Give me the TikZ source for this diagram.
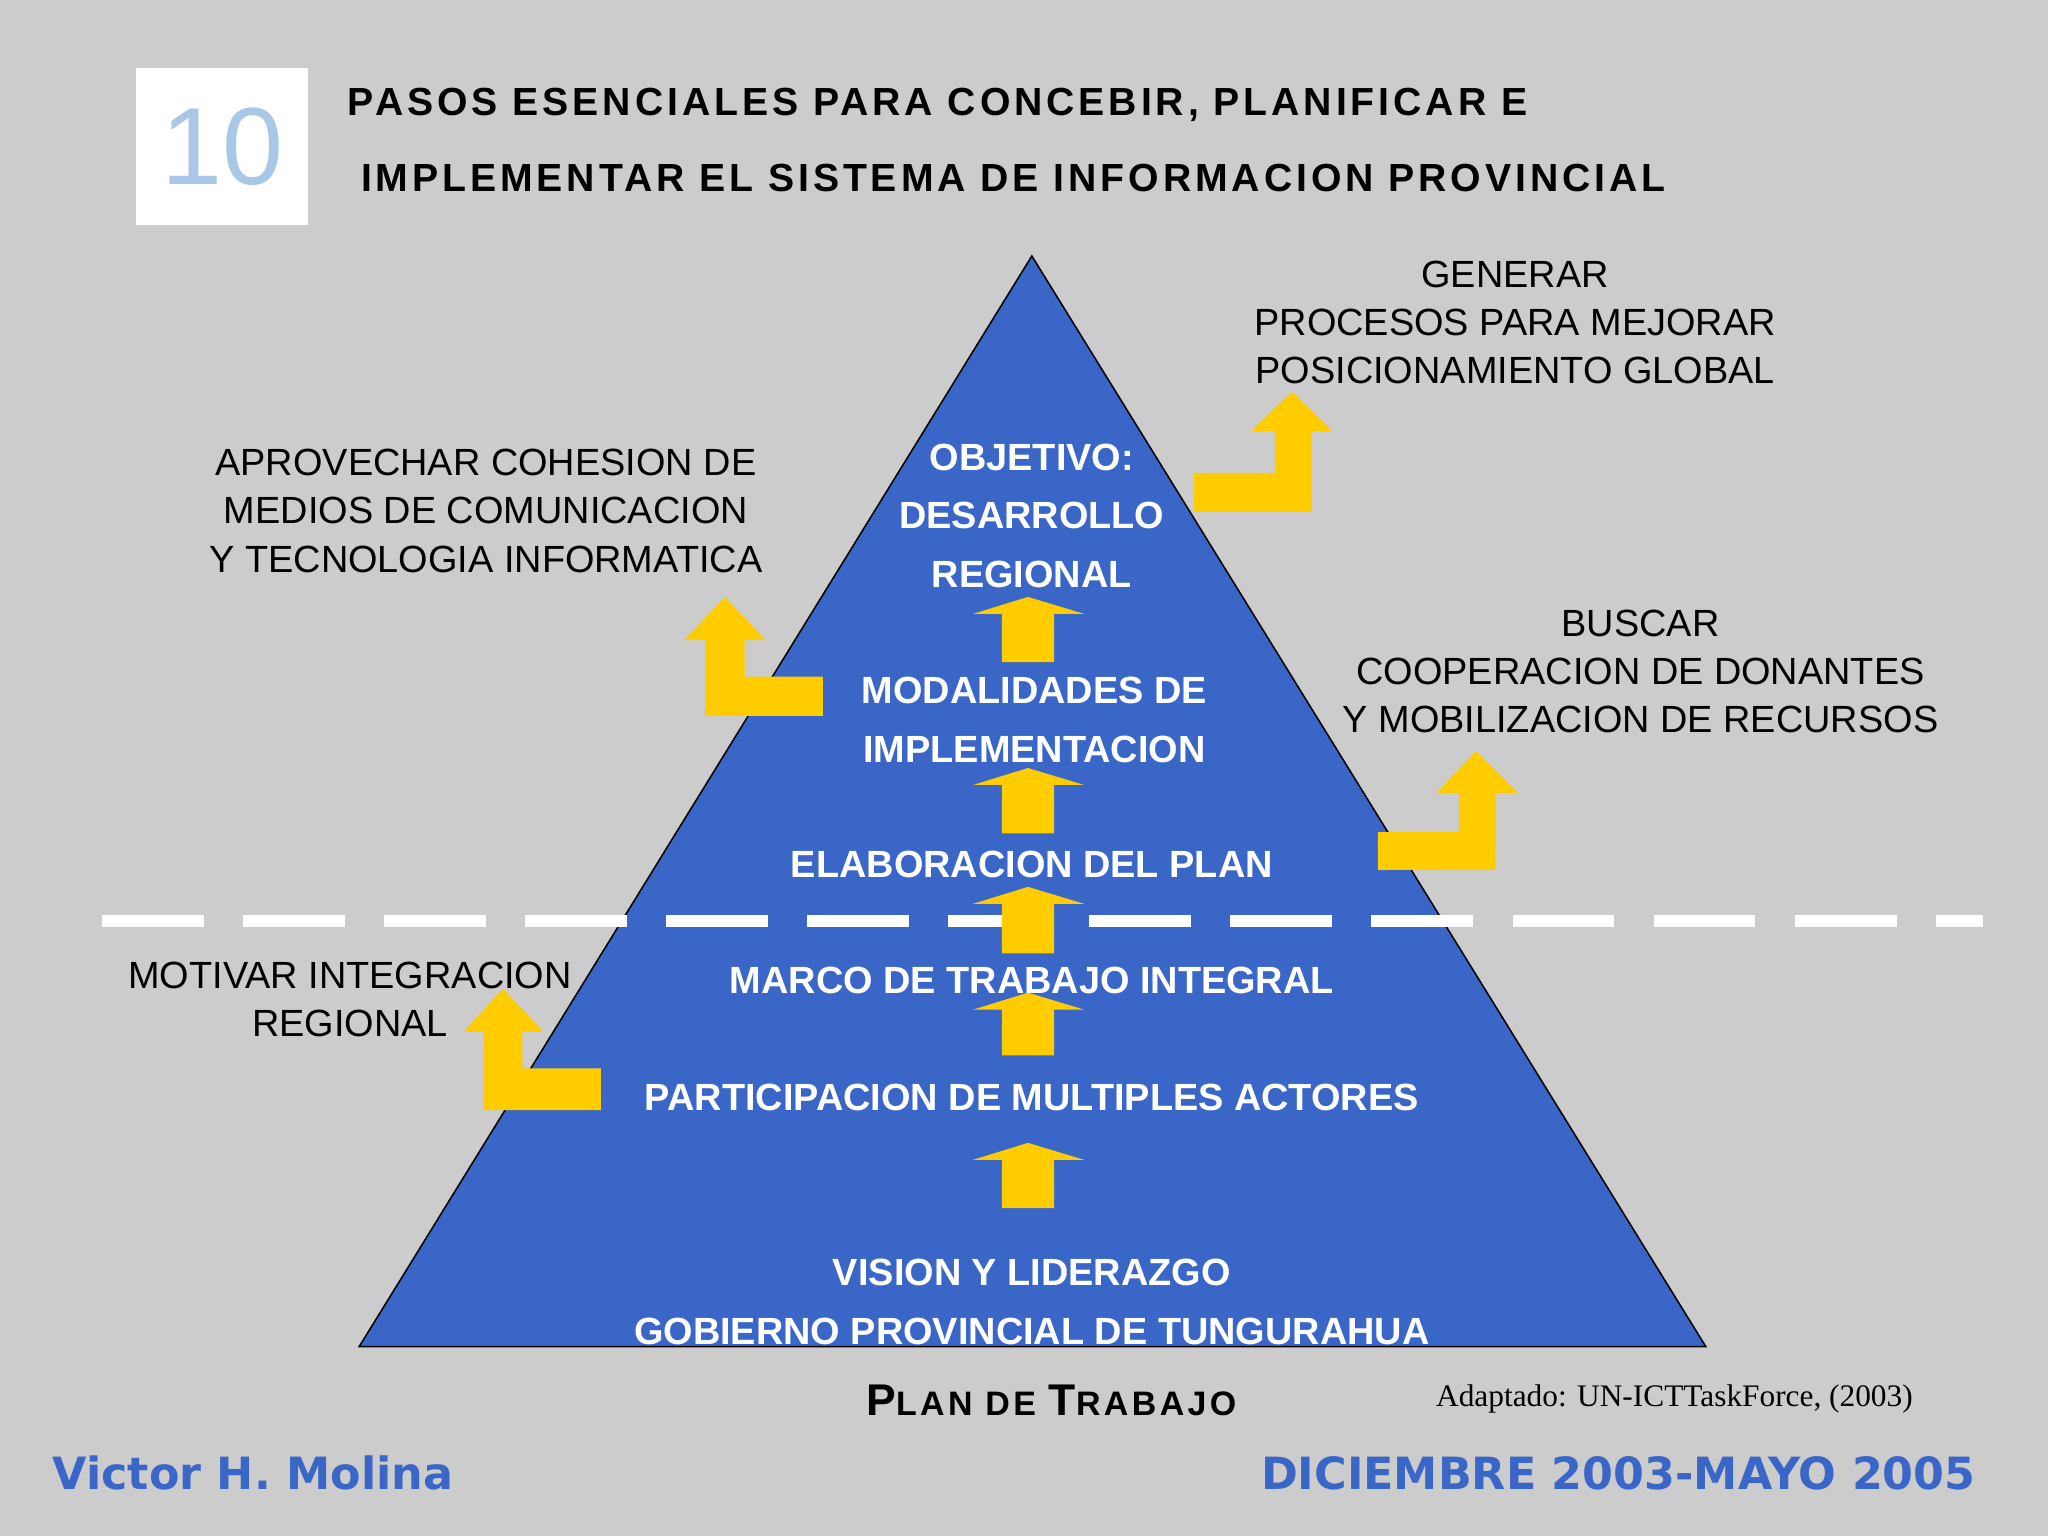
\documentclass[tikz,border=0pt]{standalone}
\usepackage{fontspec}
\setmainfont{Liberation Sans}
\newfontfamily\titlefont[LetterSpace=10]{Liberation Sans}
\newfontfamily\serifF{Liberation Serif}
\newfontfamily\blueF{DejaVu Sans}
\definecolor{bg}{HTML}{CCCCCC}
\definecolor{pyr}{HTML}{3A66C8}
\definecolor{ylw}{HTML}{FFCC00}
\definecolor{lblue}{HTML}{A9C8E8}
\begin{document}
\begin{tikzpicture}[x=0.5pt,y=-0.5pt,
  intext/.style={text=white,font=\fontsize{14.5}{22.5}\selectfont\bfseries,align=center,inner sep=0},
  outtext/.style={text=black,font=\fontsize{14.5}{18.5}\selectfont,align=center,inner sep=0},
  ttl/.style={font=\titlefont\fontsize{15}{18}\selectfont\bfseries,anchor=west,inner sep=0},
  arrowfill/.style={fill=ylw,draw=none}]
\fill[bg] (0,0) rectangle (1568,1176);
\useasboundingbox (0,0) rectangle (1568,1176);
% number box
\node[fill=white,minimum width=66pt,minimum height=60pt,inner sep=0] (nbox) at (170,112) {};
\node[text=lblue,font=\fontsize{42}{42}\selectfont] (num) at (nbox) {10};
% title
\node[ttl] (t1) at (266,80) {PASOS ESENCIALES PARA CONCEBIR, PLANIFICAR E};
\node[ttl] (t2) at (276,136) {IMPLEMENTAR EL SISTEMA DE INFORMACION PROVINCIAL};
% pyramid
\fill[pyr,draw=black,line width=0.6pt] (790,196) -- (1306,1031) -- (275,1031) -- cycle;
% dashed line
\draw[white,line width=4.5pt,dash pattern=on 39pt off 15pt] (78,705) -- (1518,705);
% vertical arrows
\foreach \t/\b in {457/507, 588/638, 679/730, 760/808, 875/925}{
  \fill[arrowfill] (767,\b) -- (767,\t+13) -- (745,\t+13) -- (787,\t) -- (830,\t+13) -- (807,\t+13) -- (807,\b) -- cycle;
}
% L arrows: (bar left x, bar right x, bar top y, bar bottom y, vert left x, vert right x, head base y, head left, head right, tip x, tip y)
\newcommand\larrow[9]{%
 \fill[arrowfill] (#1,#4) -- (#1+90,#4) -- (#1+90,#4-30) -- (#2+28,#4-30) -- (#2+28,#3) -- (#2+44,#3) -- (#2+14,#3-#5) -- (#2-16,#3) -- (#2,#3) -- (#2,#4) -- cycle;}
% right-top: bar 914-1004, y 362-392, vert at 976-1004
\fill[arrowfill] (914,392) -- (1004,392) -- (1004,330) -- (1020,330) -- (989,300) -- (958,330) -- (976,330) -- (976,362) -- (914,362) -- cycle;
% left APROVECHAR
\fill[arrowfill] (630,548) -- (540,548) -- (540,490) -- (524,490) -- (555,457) -- (586,490) -- (570,490) -- (570,518) -- (630,518) -- cycle;
% BUSCAR
\fill[arrowfill] (1055,666) -- (1145,666) -- (1145,607) -- (1162,607) -- (1130,575) -- (1100,607) -- (1117,607) -- (1117,637) -- (1055,637) -- cycle;
% MOTIVAR
\fill[arrowfill] (460,850) -- (370,850) -- (370,790) -- (355,790) -- (385,757) -- (416,790) -- (400,790) -- (400,818) -- (460,818) -- cycle;
% pyramid texts
\node[intext] (obj) at (790,395) {OBJETIVO:\\DESARROLLO\\REGIONAL};
\node[intext] (mod) at (792,551) {MODALIDADES DE\\IMPLEMENTACION};
\node[intext] (ela) at (790,662) {ELABORACION DEL PLAN};
\node[intext] (mar) at (790,751) {MARCO DE TRABAJO INTEGRAL};
\node[intext] (par) at (790,840) {PARTICIPACION DE MULTIPLES ACTORES};
\node[intext] (vis) at (790,997) {VISION Y LIDERAZGO\\GOBIERNO PROVINCIAL DE TUNGURAHUA};
% outside texts
\node[outtext] (gen) at (1160,247) {GENERAR\\PROCESOS PARA MEJORAR\\POSICIONAMIENTO GLOBAL};
\node[outtext] (apr) at (372,391) {APROVECHAR COHESION DE\\MEDIOS DE COMUNICACION\\Y TECNOLOGIA INFORMATICA};
\node[outtext] (bus) at (1256,514) {BUSCAR\\COOPERACION DE DONANTES\\Y MOBILIZACION DE RECURSOS};
\node[outtext] (mot) at (268,765) {MOTIVAR INTEGRACION\\REGIONAL};
% bottom
\node[font=\titlefont\fontsize{17}{17}\selectfont\bfseries\scshape,inner sep=0] (plan) at (805,1072) {\fontsize{17}{17}\selectfont P\fontsize{13}{13}\selectfont LAN DE \fontsize{17}{17}\selectfont T\fontsize{13}{13}\selectfont RABAJO};
\node[font=\serifF\fontsize{12}{12}\selectfont,inner sep=0] (ad) at (1282,1071) {Adaptado: UN-ICTTaskForce, (2003)};
\node[font=\blueF\fontsize{17}{17}\selectfont\bfseries,text=pyr,anchor=west,inner sep=0] (vm) at (40,1128) {Victor H. Molina};
\node[font=\blueF\fontsize{17}{17}\selectfont\bfseries,text=pyr,anchor=east,inner sep=0] (dc) at (1513,1128) {DICIEMBRE 2003-MAYO 2005};
\end{tikzpicture}
\end{document}
